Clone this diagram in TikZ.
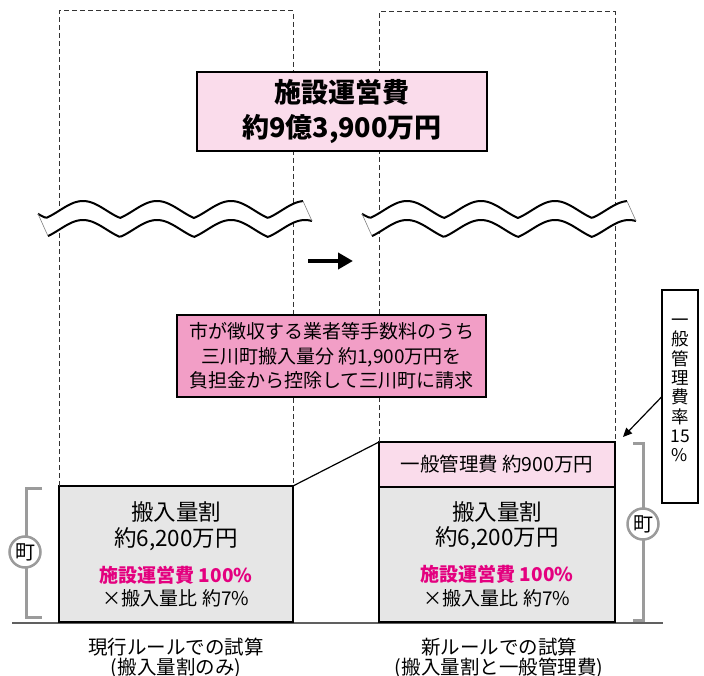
\documentclass[tikz,border=0pt]{standalone}
\usepackage{fontspec}
\setmainfont{Noto Sans CJK JP}
\usetikzlibrary{arrows.meta}
\definecolor{pinklt}{HTML}{FADCEB}
\definecolor{pinkmd}{HTML}{F29EC6}
\definecolor{magtext}{HTML}{E4007F}
\definecolor{boxgray}{HTML}{E6E6E6}
\definecolor{brkgray}{HTML}{9B9B9B}
\definecolor{gndgray}{HTML}{606060}
\begin{document}
\begin{tikzpicture}[x=1pt,y=-1pt,
  dashframe/.style={draw=black!80,line width=1pt,dash pattern=on 5pt off 3pt},
  topbox/.style={draw,line width=2.5pt,fill=pinklt,minimum width=290pt,minimum height=79pt,inner sep=0pt,outer sep=0pt,align=center,font=\bfseries\fontsize{27}{35}\selectfont},
  callout/.style={draw,line width=1.3pt,fill=pinkmd,minimum width=309pt,minimum height=82pt,inner sep=0pt,outer sep=0pt,align=center,font=\fontsize{19}{24.5}\selectfont},
  graybox/.style={draw,line width=2.5pt,fill=boxgray,inner sep=0pt,outer sep=0pt},
  pinkbox/.style={draw,line width=2.5pt,fill=pinklt,inner sep=0pt,outer sep=0pt,font=\fontsize{19.5}{24}\selectfont},
  bigtxt/.style={inner sep=0pt,font=\fontsize{22.5}{26}\selectfont},
  magtxt/.style={inner sep=0pt,text=magtext,font=\bfseries\fontsize{19}{22}\selectfont},
  smalltxt/.style={inner sep=0pt,font=\fontsize{19}{22}\selectfont},
  captxt/.style={inner sep=0pt,font=\fontsize{19.5}{23}\selectfont},
  brk/.style={draw=brkgray,line width=3pt},
  circ/.style={circle,draw=brkgray,line width=2.5pt,fill=white,minimum size=31pt,inner sep=0pt,font=\fontsize{20}{22}\selectfont},
  wavefill/.style={fill=white},
  waveline/.style={draw=black,line width=2pt},
  waveend/.style={draw=black!50,line width=0.6pt},
  thinline/.style={draw=black,line width=1.2pt}
]
\useasboundingbox (0,0) rectangle (704,676);

% ground line
\coordinate (g1) at (12,623);
\coordinate (g2) at (663,623);
\draw[draw=gndgray,line width=2pt] (g1) -- (g2);

% bottom boxes
\node[graybox,minimum width=234pt,minimum height=136pt] (lbox) at (176,554) {};
\node[graybox,minimum width=236pt,minimum height=135pt] (rbox) at (497,554.5) {};
\node[pinkbox,minimum width=236pt,minimum height=45pt] (rpink) at (497,464.5) {一般管理費 約900万円};

% dashed frames
\draw[dashframe] (lbox.north west) -- ++(0,-475) -| (lbox.north east);
\draw[dashframe] (rpink.north west) -- ++(0,-430) -| (rpink.north east);

% connector between boxes
\draw[thinline] (lbox.north east) -- (rpink.north west);

% waves
\foreach \s in {0,324}{
  \fill[wavefill] plot[domain=38:303,samples=120] ({\x+\s},{218-17*(0.6*abs(sin(2.4324*(\x-120)))+0.4*pow(sin(2.4324*(\x-120)),2))})
     -- plot[domain=312:48,samples=120] ({\x+\s},{237-17*(0.6*abs(sin(2.4324*(\x-120)))+0.4*pow(sin(2.4324*(\x-120)),2))}) -- cycle;
  \draw[waveline] plot[domain=38:303,samples=120] ({\x+\s},{218-17*(0.6*abs(sin(2.4324*(\x-120)))+0.4*pow(sin(2.4324*(\x-120)),2))});
  \draw[waveline] plot[domain=48:312,samples=120] ({\x+\s},{237-17*(0.6*abs(sin(2.4324*(\x-120)))+0.4*pow(sin(2.4324*(\x-120)),2))});
  \draw[waveend] ({38+\s},{218-17*(0.6*abs(sin(2.4324*(38-120)))+0.4*pow(sin(2.4324*(38-120)),2))})
     -- ({48+\s},{237-17*(0.6*abs(sin(2.4324*(48-120)))+0.4*pow(sin(2.4324*(48-120)),2))});
  \draw[waveend] ({303+\s},{218-17*(0.6*abs(sin(2.4324*(303-120)))+0.4*pow(sin(2.4324*(303-120)),2))})
     -- ({312+\s},{237-17*(0.6*abs(sin(2.4324*(312-120)))+0.4*pow(sin(2.4324*(312-120)),2))});
}

% top box
\node[topbox] (top) at (342,111.5) {施設運営費\\約9億3,900万円};

% big arrow
\coordinate (arS) at (308,261);
\coordinate (arE) at (353,261);
\draw[line width=4.5pt,-{Triangle[length=15pt,width=16pt]}] (arS) -- (arE);

% callout
\node[callout] (call) at (331.5,356) {市が徴収する業者等手数料のうち\\三川町搬入量分 約1,900万円を\\負担金から控除して三川町に請求};

% texts in gray boxes
\node[bigtxt] (lt1) at (176,512) {搬入量割};
\node[bigtxt] (lt2) at (176,539) {約6,200万円};
\node[magtxt] (lt3) at (176,575) {施設運営費 100\%};
\node[smalltxt] (lt4) at (176,598) {×搬入量比 約7\%};
\node[bigtxt] (rt1) at (497,512) {搬入量割};
\node[bigtxt] (rt2) at (497,538) {約6,200万円};
\node[magtxt] (rt3) at (497,574) {施設運営費 100\%};
\node[smalltxt] (rt4) at (497,598) {×搬入量比 約7\%};

% brackets and circles
\draw[brk] (42,488) -- (26,488) -- (26,617) -- (42,617);
\node[circ] (lc) at (25,552) {町};
\draw[brk] (633,443) -- (643,443) -- (643,620) -- (633,620);
\node[circ] (rc) at (643,524) {町};

% vertical label box
\node[draw,line width=1.2pt,minimum width=36pt,minimum height=213pt,inner sep=0pt,outer sep=0pt,fill=white] (vbox) at (680,396.5) {};
\node[inner sep=0pt,align=center,font=\fontsize{17.5}{19.3}\selectfont] (vtxt) at (680,390.5) {一\\般\\管\\理\\費\\率\\15\\\%};
\coordinate (vtip) at (623,437);
\draw[line width=1.2pt,-{Triangle[length=9pt,width=8pt]}] (vbox.west) -- (vtip);

% captions
\node[captxt] (lb1) at (176,647) {現行ルールでの試算};
\node[captxt] (lb2) at (176,668) {(搬入量割のみ)};
\node[captxt] (rb1) at (499,647) {新ルールでの試算};
\node[captxt] (rb2) at (499,668) {(搬入量割と一般管理費)};
\end{tikzpicture}
\end{document}
